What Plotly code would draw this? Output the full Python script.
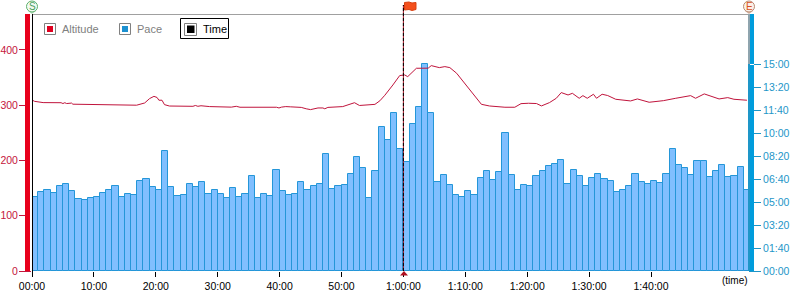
import plotly.graph_objects as go

# ---- data ----
pace_seconds = [321,343,352,338,369,378,347,312,308,317,321,338,352,369,321,334,330,391,399,365,
                352,522,365,325,330,378,365,386,334,352,334,317,360,321,334,413,317,334,325,439,
                347,330,334,386,352,369,378,508,356,369,373,421,495,447,317,434,626,569,687,530,
                474,639,713,901,687,386,417,373,330,321,347,330,404,434,395,430,600,417,352,373,
                369,413,434,456,465,482,378,439,413,369,404,421,399,391,343,352,369,421,386,378,
                391,382,421,530,461,447,417,478,478,408,434,461,408,413,452,352]
pace_minutes = [i + 0.5 for i in range(len(pace_seconds))]

alt_minutes = [0,0.4,1.8,4.5,4.7,5.0,5.3,5.6,6.4,6.6,10.4,12,13.6,16.9,18.2,19,19.7,20.2,20.5,21,21.4,22.2,26,26.4,26.8,27.3,
               28.7,31.9,32.2,33,33.6,39.5,39.9,40.3,41,41.8,43.5,44.3,45,46.2,47,47.3,47.8,50.2,51,52.1,52.9,53.7,55.4,56.2,
               57,58.3,59.4,60.2,60.7,62.1,64,64.5,65.3,65.8,66.7,67.5,68.6,69.9,71.5,72.6,73.9,76.4,78,79,80.2,81.5,82.3,83.6,
               84.7,85.5,86.6,87.3,88.4,89,89.7,90.7,91.2,92.1,93,94.3,96.7,97.8,99.7,102,104,106.4,107.2,108.6,111,112.4,113.4,115.5]
alt_values = [309.5,307,304.7,303.5,304.5,303,304.5,303,303.8,301.8,301.2,301,300,300,304,312,316,314,309,309,301,298.5,298,299.5,298,299,
              297.5,297.5,296.5,298,296.3,296.3,295,296.5,297.5,297,296,293.5,292,295,295,293.5,296,297.5,301,304.5,299.5,300,301.5,308,
              318,336.6,353.6,354.8,351.7,366.8,367,371.6,370,368,369.8,368,357.8,339.7,315.5,301.6,298.6,296.3,296.3,302.8,303.5,303,298.7,304.7,
              312.5,322.8,318.5,321.5,312.5,317.3,312.5,319.8,312.5,319.8,317.5,310.7,307.7,311.3,305.3,308.2,312.5,317.3,312.5,320.4,311.3,313.7,310.7,309]

time_tick_vals = [0,10,20,30,40,50,60,70,80,90,100]
time_tick_text = ["00:00","10:00","20:00","30:00","40:00","50:00","1:00:00","1:10:00","1:20:00","1:30:00","1:40:00"]
alt_ticks = [0,100,200,300,400]
pace_tick_vals = [0,100,200,300,400,500,600,700,800,900]
pace_tick_text = ["00:00","01:40","03:20","05:00","06:40","08:20","10:00","11:40","13:20","15:00"]
marker_minute = 60
time_max = 115.67
alt_max = 465
pace_max = 1120

W, H = 790, 291
L, R, T, B = 32, 42, 14, 20
PW, PH = W - L - R, H - T - B
FONT = "Liberation Sans"
RED = "#C4163C"
BLUE = "#1E96C8"

def fx(px): return (px - L) / PW
def fy(py): return (H - B - py) / PH

def rect(x0, y0, x1, y1, fill, line=None, lw=1):
    return dict(type="rect", xref="paper", yref="paper", x0=fx(x0), x1=fx(x1), y0=fy(y0), y1=fy(y1),
                fillcolor=fill, line=dict(color=line or fill, width=lw if line else 0), layer="above")

def seg(x0, y0, x1, y1, color, lw=1, dash="solid"):
    return dict(type="line", xref="paper", yref="paper", x0=fx(x0), x1=fx(x1), y0=fy(y0), y1=fy(y1),
                line=dict(color=color, width=lw, dash=dash), layer="above")

def poly(points, fill, line=None):
    d = "M " + " L ".join(f"{fx(a):.5f},{fy(b):.5f}" for a, b in points) + " Z"
    return dict(type="path", xref="paper", yref="paper", path=d, fillcolor=fill,
                line=dict(color=line or fill, width=1 if line else 0), layer="above")

def circle(cx, cy, r, fill, line):
    return dict(type="circle", xref="paper", yref="paper", x0=fx(cx - r), x1=fx(cx + r), y0=fy(cy + r), y1=fy(cy - r),
                fillcolor=fill, line=dict(color=line, width=1), layer="above")

def text(px, py, s, color, size=11, anchor="left"):
    return dict(xref="paper", yref="paper", x=fx(px), y=fy(py), text=s, showarrow=False, xanchor=anchor, yanchor="middle",
                font=dict(family=FONT, size=size, color=color), xshift=0, yshift=0, borderpad=0, borderwidth=0)

fig = go.Figure()
fig.add_trace(go.Bar(x=pace_minutes, y=pace_seconds, width=1.0, yaxis="y", name="Pace",
                     marker=dict(color="#80BFFF", line=dict(color="#2496D8", width=1)), cliponaxis=True))
fig.add_trace(go.Scatter(x=alt_minutes, y=alt_values, mode="lines", yaxis="y2", name="Altitude",
                         line=dict(color="#C0143C", width=1, shape="linear")))

shapes = [
    # chart frame
    seg(32, 14.5, 748, 14.5, "#A0A0A0"),
    rect(25, 14, 30, 271, "#E8001C"),
    rect(30, 14, 32, 271, "#FFFFFF"),
    seg(32.5, 14, 32.5, 276, "#000000"),
    rect(750, 14, 754, 271, "#009CDC"),
    rect(748, 14, 750, 64, "#8FA4AE"),
    rect(748, 64, 750, 271, "#1E96C8"),
    seg(750, 64.5, 754, 64.5, "#FFFFFF"),
    # start / end pins
    poly([(28, 11), (36, 11), (32, 14)], "#B8DDBE"),
    circle(32, 6.5, 5.5, "#F2FAF2", "#5CB06C"),
    poly([(745, 11), (753, 11), (749, 14)], "#D8B8A8"),
    circle(749, 6.5, 5.5, "#FBF0E8", "#B88A70"),
    # current position marker
    dict(type="line", xref="x", yref="paper", x0=marker_minute, x1=marker_minute, y0=0, y1=fy(5),
         line=dict(color="#A01020", width=1), layer="above"),
    dict(type="line", xref="x", yref="paper", x0=marker_minute, x1=marker_minute, y0=0, y1=fy(5),
         line=dict(color="#000000", width=1, dash="3px,2px"), layer="above"),
    poly([(400, 275.5), (408, 275.5), (404, 271)], "#B01020"),
    poly([(404.5, 2.5), (409, 2), (412, 3), (416, 2.5), (416, 9.5), (412, 10.5), (409, 9.5), (404.5, 10)], "#F4501C", "#D84010"),
    # legend
    rect(44.5, 23.5, 55.5, 34.5, "#FFFFFF", "#808080"),
    rect(47, 26, 53, 32, "#E00020"),
    rect(119.5, 23.5, 130.5, 34.5, "#FFFFFF", "#808080"),
    rect(122, 26, 128, 32, "#1C90D0"),
    rect(180.5, 18.5, 228.5, 38.5, "#FFFFFF", "#000000"),
    rect(184.5, 23.5, 196.5, 35.5, "#FFFFFF", "#808080"),
    rect(187, 25.5, 194.5, 33, "#000000"),
]

annotations = [
    text(62, 29, "Altitude", "#808080"),
    text(137, 29, "Pace", "#808080"),
    text(203, 29, "Time", "#000000"),
    text(735, 280, "(time)", "#000000", 10, "center"),
    text(32, 6.5, "S", "#4CA060", 10, "center"),
    text(749, 6.5, "E", "#D85020", 10, "center"),
]

fig.update_layout(
    width=W, height=H, autosize=False,
    margin=dict(l=L, r=R, t=T, b=B, pad=0, autoexpand=False),
    paper_bgcolor="#FFFFFF", plot_bgcolor="#FFFFFF",
    showlegend=False, bargap=0, hovermode=False,
    font=dict(family=FONT, size=11),
    xaxis=dict(range=[0, time_max], tickmode="array", tickvals=time_tick_vals, ticktext=time_tick_text, automargin=False,
               ticks="outside", ticklen=5, tickwidth=1, tickcolor="#000000", showgrid=False, zeroline=False,
               showline=False, tickfont=dict(family=FONT, size=10.5, color="#000000")),
    yaxis=dict(range=[0, pace_max], side="right", tickmode="array", tickvals=pace_tick_vals, ticktext=pace_tick_text, automargin=False,
               ticks="outside", ticklen=12, tickwidth=1, tickcolor=BLUE, showgrid=False, zeroline=False, showline=False,
               tickfont=dict(family=FONT, size=10.5, color=BLUE)),
    yaxis2=dict(range=[0, alt_max], side="left", overlaying="y", tickmode="array", tickvals=alt_ticks, automargin=False,
                ticks="outside", ticklen=12, tickwidth=1, tickcolor=RED, showgrid=False, zeroline=False, showline=False,
                ticklabelstandoff=-1, tickfont=dict(family=FONT, size=10.5, color=RED)),
    shapes=shapes, annotations=annotations,
)

fig.write_html("out.html", config=dict(displayModeBar=False),
               post_script="document.body.style.margin='0';document.documentElement.style.overflow='hidden';")
